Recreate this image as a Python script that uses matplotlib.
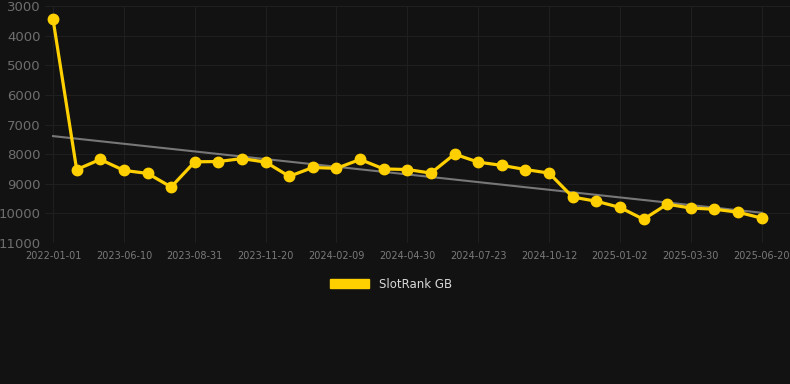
import numpy as np
import matplotlib
matplotlib.use("Agg")
from matplotlib import pyplot as plt
from matplotlib.patches import Patch

# Rank values per snapshot (lower on chart = worse rank)
ranks = [3450, 8520, 8180, 8550, 8650, 9110, 8260, 8250, 8150, 8270,
         8750, 8450, 8480, 8180, 8500, 8520, 8640, 8000, 8270, 8380,
         8520, 8640, 9450, 9590, 9800, 10200, 9690, 9820, 9860, 9960,
         10160]
tick_labels = ["2022-01-01", "2023-06-10", "2023-08-31", "2023-11-20",
               "2024-02-09", "2024-04-30", "2024-07-23", "2024-10-12",
               "2025-01-02", "2025-03-30", "2025-06-20"]
y_ticks = [3000, 4000, 5000, 6000, 7000, 8000, 9000, 10000, 11000]

bg = "#121212"
gold = "#FFD000"

x = np.arange(len(ranks))
slope, intercept = np.polyfit(x, ranks, 1)

fig = plt.figure(figsize=(7.9, 3.84), dpi=100, facecolor=bg)
ax = fig.add_axes([45 / 790, 1 - 243 / 384, 745 / 790, 237 / 384])
ax.set_facecolor(bg)

# linear trend
ax.plot(x, slope * x + intercept, color="#777777", lw=1.5, zorder=2)
ax.plot(x, ranks, color=gold, lw=2.3, marker="o", ms=7.5, zorder=3)

ax.set_ylim(11000, 3000)
ax.set_yticks(y_ticks)
ax.set_xlim(-0.34, 31.2)
ax.set_xticks(x[::3])
ax.set_xticklabels(tick_labels)

ax.grid(True, color="#1f1f1f", lw=0.8)
ax.set_axisbelow(True)
for s in ax.spines.values():
    s.set_visible(False)
ax.tick_params(axis="y", length=0, colors="#6e6e6e", labelsize=9.5, pad=3)
ax.tick_params(axis="x", length=0, colors="#7a7a7a", labelsize=7, pad=6)

leg = fig.legend(handles=[Patch(color=gold, label="SlotRank GB")],
                 loc="center", bbox_to_anchor=(0.495, 1 - 284 / 384),
                 frameon=False, handlelength=3.3, handleheight=0.9,
                 fontsize=8.5, labelcolor="#d8d8d8")

fig.savefig("out.png", dpi=100, facecolor=bg)
